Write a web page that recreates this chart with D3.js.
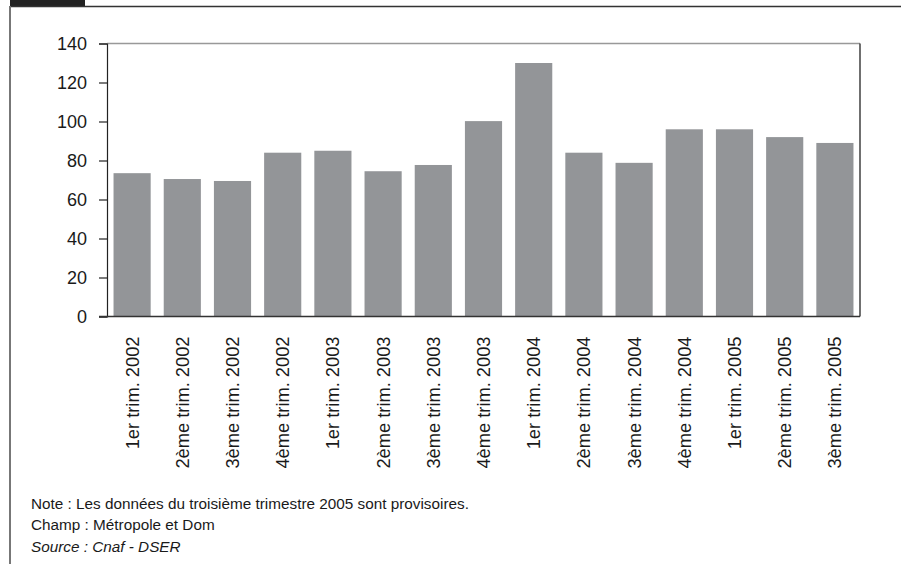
<!DOCTYPE html>
<html>
<head>
<meta charset="utf-8">
<script src="https://cdn.jsdelivr.net/npm/d3@7"></script>
<style>
  body { margin: 0; background: #fff; }
  text { font-family: "Liberation Sans", Arial, sans-serif; fill: #1a1a1a; }
</style>
</head>
<body>
<div id="chart"></div>
<script>
// data
var quarters = ["1er trim. 2002", "2ème trim. 2002", "3ème trim. 2002", "4ème trim. 2002",
                "1er trim. 2003", "2ème trim. 2003", "3ème trim. 2003", "4ème trim. 2003",
                "1er trim. 2004", "2ème trim. 2004", "3ème trim. 2004", "4ème trim. 2004",
                "1er trim. 2005", "2ème trim. 2005", "3ème trim. 2005"]
var values = [73.5, 70.5, 69.5, 84, 85, 74.5, 77.7, 100.2, 130, 84, 78.8, 96, 96, 92, 89]
var yTicks = [0, 20, 40, 60, 80, 100, 120, 140]
var notes = ["Note : Les données du troisième trimestre 2005 sont provisoires.",
             "Champ : Métropole et Dom"]
var source = "Source : Cnaf - DSER"

var W = 901, H = 564
var margin = {top: 43.5, right: 41, bottom: 247.5, left: 107}
var width = W - margin.left - margin.right,
    height = H - margin.top - margin.bottom

var svg = d3.select("#chart")
  .append("svg")
    .attr("width", W)
    .attr("height", H)

// page frame
svg.append("rect")
  .attr("x", 10).attr("y", 0)
  .attr("width", 75).attr("height", 6)
  .style("fill", "#222")
svg.append("line")
  .attr("x1", 10).attr("x2", W)
  .attr("y1", 6.5).attr("y2", 6.5)
  .style("stroke", "#333").style("stroke-width", 1.6)
svg.append("line")
  .attr("x1", 10).attr("x2", 10)
  .attr("y1", 6).attr("y2", H)
  .style("stroke", "#777").style("stroke-width", 2)

var g = svg.append("g")
  .attr("transform", "translate(" + margin.left + "," + margin.top + ")")

var x = d3.scaleBand()
  .domain(quarters)
  .range([0, width])
  .paddingInner(0.26)
  .paddingOuter(0.13)

var y = d3.scaleLinear()
  .domain([0, 140])
  .range([height, 0])

// plot box: grey top, dark right
g.append("line")
  .attr("x1", 0).attr("x2", width)
  .attr("y1", 0).attr("y2", 0)
  .style("stroke", "#999").style("stroke-width", 1.3)
g.append("line")
  .attr("x1", width).attr("x2", width)
  .attr("y1", 0).attr("y2", height)
  .style("stroke", "#222").style("stroke-width", 1.3)

g.selectAll(".bar")
  .data(values)
  .enter()
  .append("rect")
    .attr("class", "bar")
    .attr("x", function(d, i){ return x(quarters[i]) })
    .attr("width", x.bandwidth())
    .attr("y", function(d){ return y(d) })
    .attr("height", function(d){ return height - y(d) })
    .style("fill", "#939598")

// y axis
var yAxis = g.append("g")
  .call(d3.axisLeft(y).tickValues(yTicks).tickSize(8).tickPadding(12))
yAxis.select(".domain").style("stroke", "#222").style("stroke-width", 1.2)
yAxis.selectAll(".tick line").style("stroke", "#222").style("stroke-width", 1.2)
yAxis.selectAll(".tick text")
  .style("font-size", "18px")
  .style("font-family", "'Liberation Sans', Arial, sans-serif")
  .style("fill", "#1a1a1a")

// x axis line
g.append("line")
  .attr("x1", -8).attr("x2", width)
  .attr("y1", height).attr("y2", height)
  .style("stroke", "#333").style("stroke-width", 1.6)

// rotated category labels
g.selectAll(".xlab")
  .data(quarters)
  .enter()
  .append("text")
    .attr("class", "xlab")
    .attr("transform", function(d){
      return "translate(" + (x(d) + x.bandwidth() / 2) + "," + (height + 20) + ") rotate(-90)" })
    .attr("text-anchor", "end")
    .attr("dy", "0.36em")
    .style("font-size", "18.3px")
    .text(function(d){ return d })

// notes
svg.selectAll(".note")
  .data(notes)
  .enter()
  .append("text")
    .attr("class", "note")
    .attr("x", 31)
    .attr("y", function(d, i){ return 508.5 + i * 21.7 })
    .style("font-size", "15.3px")
    .text(function(d){ return d })

svg.append("text")
  .attr("x", 31)
  .attr("y", 552)
  .style("font-size", "15.3px")
  .style("font-style", "italic")
  .text(source)
</script>
</body>
</html>
